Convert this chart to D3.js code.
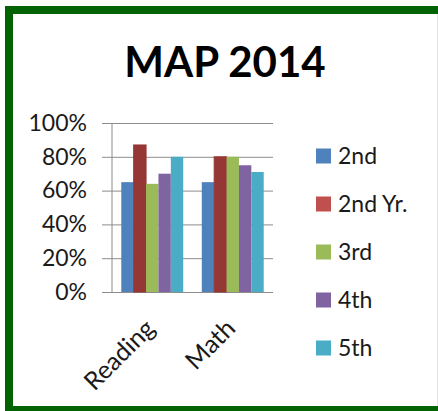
<!DOCTYPE html>
<html>
<head>
<meta charset="utf-8">
<script src="https://cdn.jsdelivr.net/npm/d3@7"></script>
<style>
  html, body { margin: 0; padding: 0; background: #fff; }
  svg { display: block; }
</style>
</head>
<body>
<div id="chart"></div>
<script>
const categories = ["Reading", "Math"];
const seriesNames = ["2nd", "2nd Yr.", "3rd", "4th", "5th"];
const seriesValues = [
  [0.65, 0.65],
  [0.87, 0.80],
  [0.64, 0.80],
  [0.70, 0.75],
  [0.80, 0.71]
];
const yTicks = [0, 0.2, 0.4, 0.6, 0.8, 1.0];

const barColors = ["#4f81bd", "#953735", "#9bbb59", "#8064a2", "#4bacc6"];
const legendColors = ["#4f81bd", "#c0504d", "#9bbb59", "#8064a2", "#4bacc6"];

const W = 438, H = 411;
const plot = { left: 112, right: 273, top: 123, bottom: 292 };
const font = "Lato, 'Open Sans', sans-serif";

const svg = d3.select("#chart").append("svg")
  .attr("width", W)
  .attr("height", H);

// frame
svg.append("rect")
  .attr("x", 9).attr("y", 10)
  .attr("width", 520).attr("height", 400)
  .attr("fill", "#fff")
  .attr("stroke", "#036303")
  .attr("stroke-width", 8);
svg.append("line")
  .attr("x1", 437.5).attr("x2", 437.5)
  .attr("y1", 14).attr("y2", 406)
  .attr("stroke", "#e4e4e4");

svg.append("text")
  .attr("x", 225).attr("y", 77)
  .attr("text-anchor", "middle")
  .style("font-family", font)
  .style("font-weight", "bold")
  .style("font-size", "42px")
  .style("fill", "#000")
  .text("MAP 2014");

const y = d3.scaleLinear().domain([0, 1]).range([plot.bottom, plot.top]);
const x0 = d3.scaleBand().domain(categories).range([plot.left, plot.right]);
const gap = x0.bandwidth() * 1.5 / 6.5;
const x1 = d3.scaleBand()
  .domain(d3.range(seriesNames.length))
  .range([gap / 2, x0.bandwidth() - gap / 2]);

// grid + y axis
const yAxis = svg.append("g")
  .attr("transform", `translate(${plot.left},0)`)
  .call(d3.axisLeft(y)
    .tickValues(yTicks)
    .tickFormat(d3.format(".0%"))
    .tickSize(10)
    .tickPadding(15));
yAxis.select(".domain").remove();
yAxis.selectAll(".tick line")
  .attr("x1", -10)
  .attr("x2", plot.right - plot.left)
  .attr("stroke", "#8c8c8c");
yAxis.selectAll(".tick text")
  .style("font-family", font)
  .style("font-size", "23px")
  .style("fill", "#1a1a1a");

svg.append("line")
  .attr("x1", plot.left).attr("x2", plot.left)
  .attr("y1", plot.top).attr("y2", plot.bottom)
  .attr("stroke", "#8c8c8c");

// bars
seriesValues.forEach((vals, s) => {
  svg.append("g")
    .selectAll("rect")
    .data(vals)
    .enter()
    .append("rect")
    .attr("x", (d, i) => x0(categories[i]) + x1(s))
    .attr("y", d => y(d))
    .attr("width", x1.bandwidth())
    .attr("height", d => y(0) - y(d))
    .attr("fill", barColors[s])
    .attr("stroke", s === 1 ? barColors[s] : "none")
    .attr("stroke-width", s === 1 ? 1 : 0);
});

// category labels
svg.append("g")
  .selectAll("text")
  .data(categories)
  .enter()
  .append("text")
  .attr("transform", d => `translate(${x0(d) + x0.bandwidth() / 2 + 4},${plot.bottom + 38}) rotate(-45)`)
  .attr("text-anchor", "end")
  .style("font-family", font)
  .style("font-size", "25px")
  .style("fill", "#1a1a1a")
  .text(d => d);

// legend
const legend = svg.append("g")
  .selectAll("g")
  .data(seriesNames)
  .enter()
  .append("g")
  .attr("transform", (d, i) => `translate(316,${156 + i * 48})`);
legend.append("rect")
  .attr("x", 0).attr("y", -7.5)
  .attr("width", 15).attr("height", 15)
  .attr("fill", (d, i) => legendColors[i]);
legend.append("text")
  .attr("x", 22).attr("y", 0)
  .attr("dy", "0.36em")
  .style("font-family", font)
  .style("font-size", "23px")
  .style("fill", "#1a1a1a")
  .text(d => d);
</script>
</body>
</html>
